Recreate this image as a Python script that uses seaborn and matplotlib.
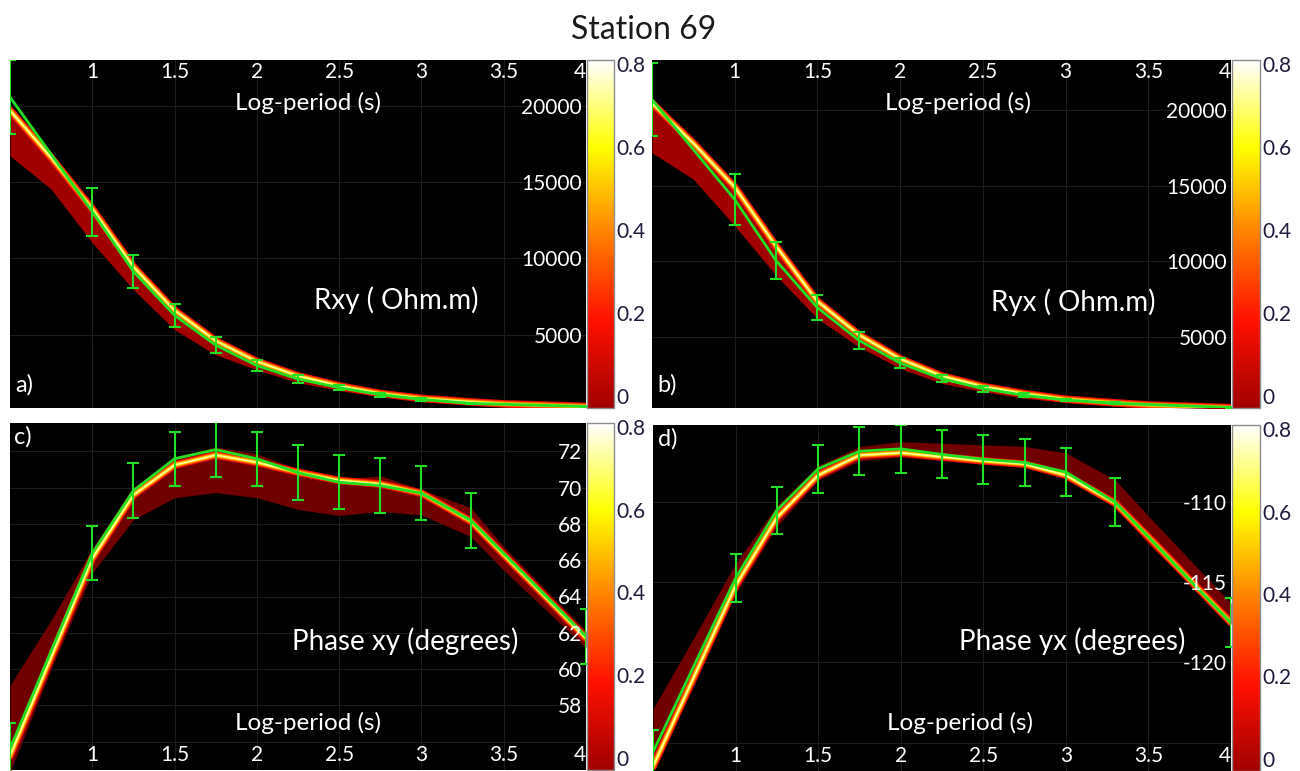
import numpy as np
import pandas as pd
import matplotlib
matplotlib.use("Agg")
import matplotlib.pyplot as plt
import seaborn as sns
from matplotlib.colors import LinearSegmentedColormap, Normalize
from matplotlib.cm import ScalarMappable

# ---------------- data ----------------
periods = [0.5, 1.0, 1.25, 1.5, 1.75, 2.0, 2.25, 2.5, 2.75, 3.0, 3.3, 4.0]
band_x = [0.5, 0.75, 1.0, 1.25, 1.5, 1.75, 2.0, 2.25, 2.5, 2.75, 3.0, 3.3, 3.5, 4.0]

rxy_obs = [20570, 13070, 9145, 6270, 4320, 2980, 2100, 1535, 1075, 770, 500, 300]
rxy_err = [2400, 1570, 1075, 770, 530, 380, 250, 185, 130, 90, 50, 30]
rxy_hi = [20020, 16900, 13550, 9715, 6860, 4850, 3465, 2480, 1820, 1270, 940, 710, 550, 380]
rxy_lo = [16730, 14540, 11030, 7960, 5330, 3680, 2700, 1860, 1340, 940, 680, 470, 370, 230]
rxy_mode = [19700, 16600, 13250, 9450, 6600, 4600, 3250, 2300, 1650, 1150, 830, 600, 470, 300]

ryx_obs = [20680, 14080, 10040, 6930, 4780, 3270, 2240, 1580, 1140, 830, 610, 330]
ryx_err = [2400, 1670, 1200, 820, 550, 350, 250, 190, 140, 90, 60, 30]
ryx_hi = [20680, 18050, 15090, 11250, 7520, 5330, 3680, 2520, 1820, 1340, 940, 720, 570, 380]
ryx_lo = [17170, 15420, 12350, 9060, 6210, 4340, 2920, 1930, 1380, 940, 680, 470, 370, 230]
ryx_mode = [20450, 17800, 14900, 11000, 7350, 5150, 3550, 2420, 1720, 1250, 880, 640, 500, 320]

pxy_obs = [55.6, 66.38, 69.84, 71.6, 72.1, 71.6, 70.83, 70.3, 70.12, 69.7, 68.2, 61.8]
pxy_err = [1.4, 1.49, 1.5, 1.5, 1.5, 1.5, 1.5, 1.5, 1.5, 1.5, 1.5, 1.5]
pxy_hi = [59.1, 62.7, 66.66, 70.0, 71.7, 72.25, 71.87, 71.03, 70.47, 70.66, 69.9, 68.9, 66.75, 62.1]
pxy_lo = [54.3, 60.0, 65.3, 68.24, 69.45, 69.73, 69.45, 68.8, 68.47, 68.7, 68.5, 67.3, 65.45, 61.17]
pxy_mode = [55.2, 60.65, 66.1, 69.6, 71.25, 71.8, 71.4, 70.85, 70.4, 70.2, 69.7, 68.15, 66.3, 61.7]

pyx_obs = [-125.6, -114.73, -110.49, -107.9, -106.8, -106.65, -107.0, -107.3, -107.5, -108.1, -110.0, -117.53]
pyx_err = [1.37, 1.5, 1.48, 1.5, 1.5, 1.5, 1.5, 1.52, 1.49, 1.52, 1.5, 1.53]
pyx_hi = [-122.9, -118.4, -113.8, -110.2, -107.7, -106.5, -106.2, -106.3, -106.4, -106.5, -106.9, -108.6, -110.85, -116.3]
pyx_lo = [-126.7, -121.4, -115.7, -111.5, -108.6, -107.4, -107.15, -107.4, -107.6, -107.8, -108.4, -110.2, -112.6, -117.6]
pyx_mode = [-126.5, -120.85, -115.2, -110.95, -108.3, -107.05, -106.9, -107.15, -107.4, -107.6, -108.3, -110.05, -112.15, -117.5]

x_ticks = [1, 1.5, 2, 2.5, 3, 3.5, 4]
x_ticklabels = ["1", "1.5", "2", "2.5", "3", "3.5", "4"]
cbar_ticks = [0, 0.1, 0.2, 0.3, 0.4, 0.5, 0.6, 0.7, 0.8]
cbar_labels = ["0", "", "0.2", "", "0.4", "", "0.6", "", "0.8"]

# ---------------- style ----------------
sns.set_style("white")
plt.rcParams["font.family"] = ["Lato", "DejaVu Sans"]

W, H = 1300, 771
fig = plt.figure(figsize=(13, 7.71), dpi=100)


def ax_px(l, t, r, b):
    return fig.add_axes([l / W, 1 - b / H, (r - l) / W, (b - t) / H])


cmap = LinearSegmentedColormap.from_list(
    "hotish", [(0.0, "#a00000"), (0.25, "#ff1000"), (0.5, "#ff8000"),
               (0.75, "#ffff00"), (1.0, "#ffffff")])
GREEN = "#22e022"
GRID = "#1c1c1c"

panels = [
    dict(ax=(10, 60, 586, 408), cb=(587, 60, 614, 408), obs=rxy_obs, err=rxy_err,
         hi=rxy_hi, lo=rxy_lo, mode=rxy_mode, ylim=(200, 23000),
         yticks=[5000, 10000, 15000, 20000], ylabels=["5000", "10000", "15000", "20000"],
         top=True, band="#a00000", name="Rxy ( Ohm.m)", name_pos=(0.67, 0.31),
         lp_pos=(0.517, 0.876), tag="a)", tag_pos=(0.024, 0.066)),
    dict(ax=(652, 60, 1231, 408), cb=(1232, 60, 1260, 408), obs=ryx_obs, err=ryx_err,
         hi=ryx_hi, lo=ryx_lo, mode=ryx_mode, ylim=(300, 23300),
         yticks=[5000, 10000, 15000, 20000], ylabels=["5000", "10000", "15000", "20000"],
         top=True, band="#a00000", name="Ryx ( Ohm.m)", name_pos=(0.727, 0.305),
         lp_pos=(0.528, 0.876), tag="b)", tag_pos=(0.026, 0.066)),
    dict(ax=(10, 423, 586, 770), cb=(587, 423, 614, 770), obs=pxy_obs, err=pxy_err,
         hi=pxy_hi, lo=pxy_lo, mode=pxy_mode, ylim=(54.43, 73.57),
         yticks=[56, 58, 60, 62, 64, 66, 68, 70, 72],
         ylabels=["", "58", "60", "62", "64", "66", "68", "70", "72"],
         top=False, band="#700000", name="Phase xy (degrees)", name_pos=(0.686, 0.372),
         lp_pos=(0.517, 0.135), tag="c)", tag_pos=(0.022, 0.96)),
    dict(ax=(653, 425, 1231, 771), cb=(1232, 425, 1260, 771), obs=pyx_obs, err=pyx_err,
         hi=pyx_hi, lo=pyx_lo, mode=pyx_mode, ylim=(-126.78, -105.16),
         yticks=[-125, -120, -115, -110], ylabels=["", "-120", "-115", "-110"],
         top=False, band="#700000", name="Phase yx (degrees)", name_pos=(0.725, 0.376),
         lp_pos=(0.532, 0.139), tag="d)", tag_pos=(0.026, 0.96)),
]

for p in panels:
    ax = ax_px(*p["ax"])
    ax.set_facecolor("black")
    ax.grid(False)
    ax.set_axisbelow(False)
    for xt in x_ticks:
        ax.axvline(xt, color=GRID, lw=0.8, zorder=0.5)
    for yt in p["yticks"]:
        ax.axhline(yt, color=GRID, lw=0.8, zorder=0.5)

    # posterior band
    ax.fill_between(band_x, p["lo"], p["hi"], color=p["band"], lw=0, zorder=1)
    dfm = pd.DataFrame({"x": band_x, "y": p["mode"]})
    for i, (lw, c) in enumerate([(5.5, cmap(0.22)), (3.8, cmap(0.45)),
                                  (2.3, cmap(0.68)), (1.0, cmap(0.92))]):
        sns.lineplot(data=dfm, x="x", y="y", ax=ax, color=c, lw=lw, zorder=1.2 + 0.1 * i,
                     solid_capstyle="round", solid_joinstyle="round")

    # observed data with error bars
    ax.errorbar(periods, p["obs"], yerr=p["err"], fmt="none", ecolor=GREEN,
                elinewidth=1.5, capsize=4, capthick=1.5, zorder=2.0)
    dfo = pd.DataFrame({"x": periods, "y": p["obs"]})
    sns.lineplot(data=dfo, x="x", y="y", ax=ax, color=GREEN, lw=2, zorder=2.1)

    ax.set_xlim(0.5, 4.0)
    ax.set_ylim(*p["ylim"])
    ax.set_xlabel("")
    ax.set_ylabel("")
    ax.set_xticks(x_ticks)
    ax.set_xticklabels(x_ticklabels)
    ax.set_yticks(p["yticks"])
    ax.set_yticklabels(p["ylabels"])
    ax.xaxis.set_zorder(5)
    ax.yaxis.set_zorder(5)

    if p["top"]:
        ax.tick_params(axis="x", top=True, bottom=False, labeltop=True, labelbottom=False,
                       direction="in", pad=-16, labelsize=15, labelcolor="white", length=0)
    else:
        ax.tick_params(axis="x", top=False, bottom=True, labeltop=False, labelbottom=True,
                       direction="in", pad=-18, labelsize=15, labelcolor="white", length=0)
    ax.tick_params(axis="y", left=False, right=True, labelleft=False, labelright=True,
                   direction="in", pad=-3, labelsize=15, labelcolor="white", length=0)
    for t in ax.yaxis.get_major_ticks():
        t.label2.set_horizontalalignment("right")
    last = ax.xaxis.get_major_ticks()[-1]
    last.label1.set_horizontalalignment("right")
    last.label2.set_horizontalalignment("right")

    for s in ax.spines.values():
        s.set_visible(False)

    ax.text(*p["name_pos"], p["name"], transform=ax.transAxes, color="white",
            fontsize=20, ha="center", va="center", zorder=6)
    ax.text(*p["lp_pos"], "Log-period (s)", transform=ax.transAxes, color="white",
            fontsize=17.5, ha="center", va="center", zorder=6)
    ax.text(*p["tag_pos"], p["tag"], transform=ax.transAxes, color="white",
            fontsize=17, ha="center", va="center", zorder=6)

    # colorbar
    cax = ax_px(*p["cb"])
    sm = ScalarMappable(norm=Normalize(-0.03, 0.81), cmap=cmap)
    cb = fig.colorbar(sm, cax=cax)
    cb.set_ticks(cbar_ticks)
    cb.set_ticklabels(cbar_labels)
    cax.tick_params(direction="in", length=4, width=1, color="#222222",
                    labelsize=15, labelcolor="#1e1e3c", pad=2)
    cb.outline.set_edgecolor("#8c8c8c")
    cb.outline.set_linewidth(1)

fig.text(644 / W, 1 - 30 / H, "Station 69", fontsize=23, color="#1a1a1a",
         ha="center", va="center")

fig.savefig("out.png", dpi=100, facecolor="white")
